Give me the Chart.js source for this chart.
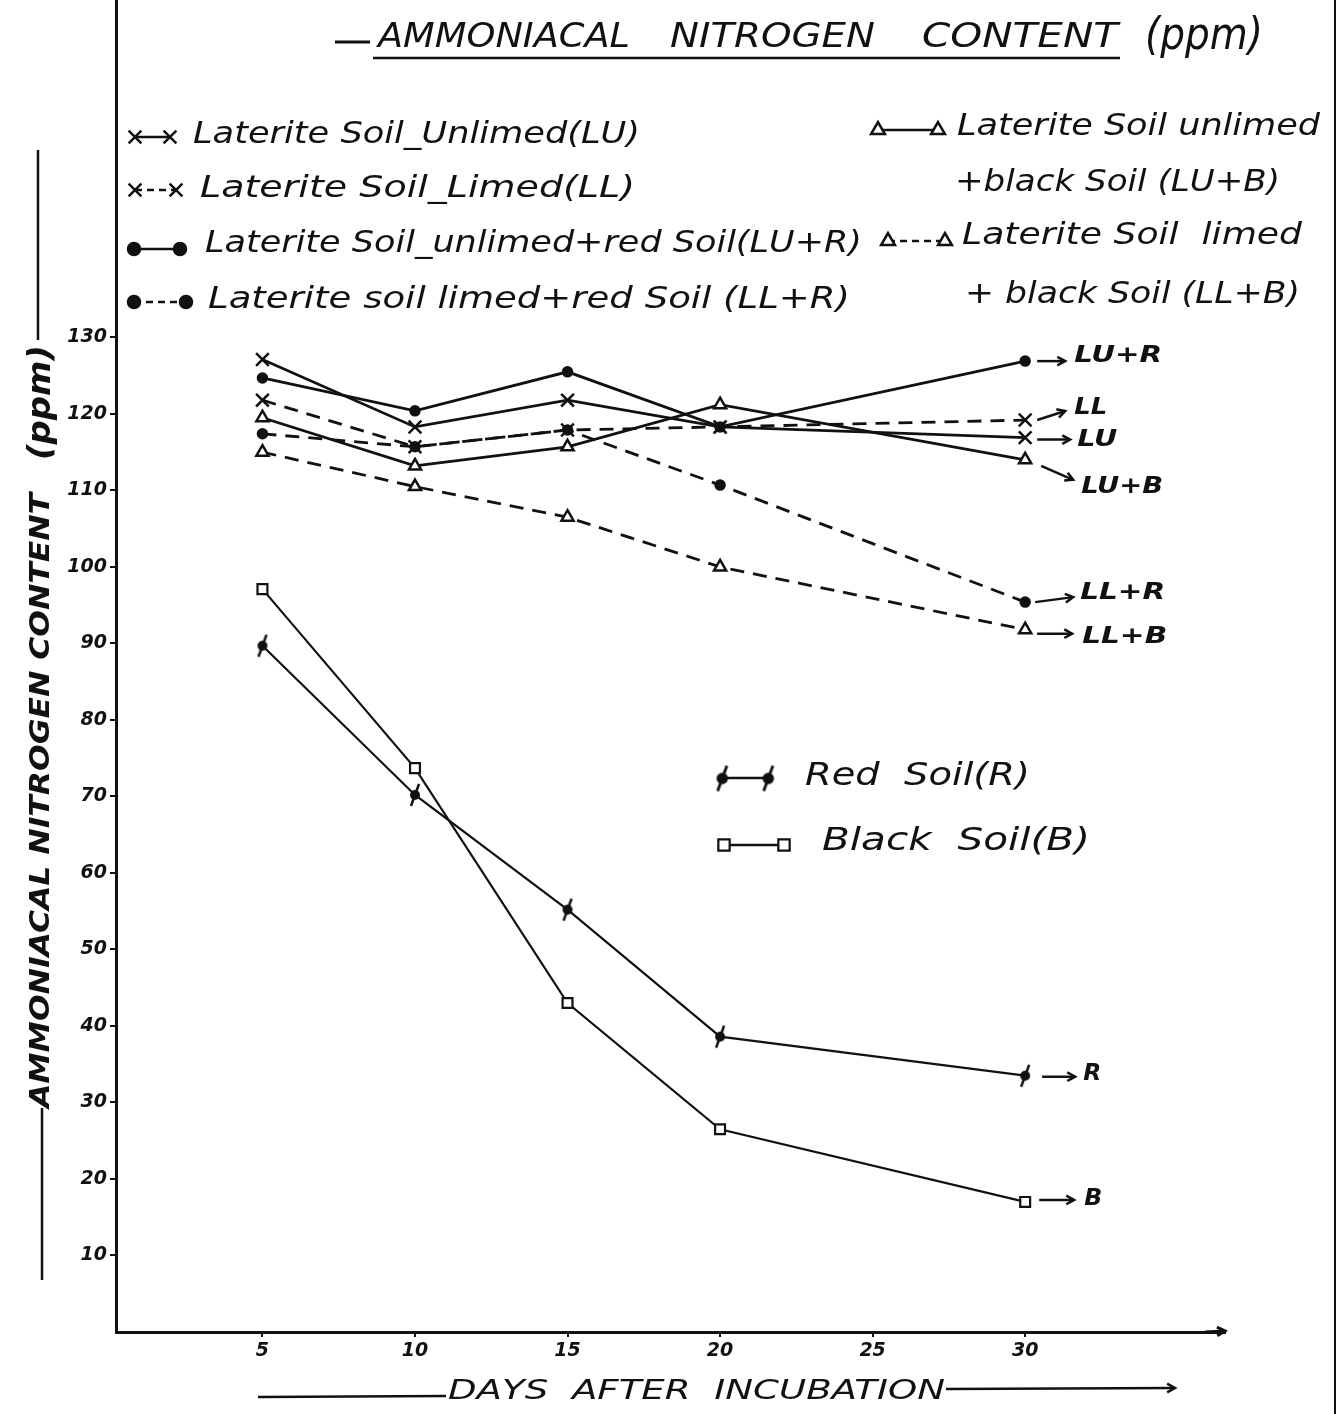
<!DOCTYPE html>
<html lang="en">
<head>
    <meta charset="UTF-8">
    <title>Ammoniacal Nitrogen Content (ppm)</title>
    <script src="https://cdn.jsdelivr.net/npm/chart.js"></script>
    <style>
        html, body { margin: 0; padding: 0; background: #fff; }
        .wrap { width: 1340px; height: 1414px; position: relative; }
    </style>
</head>
<body>
    <div class="wrap">
        <canvas id="nitroChart" width="1340" height="1414"></canvas>
    </div>

    <script>
        // days after incubation
        const days = [5, 10, 15, 20, 30];

        // ppm values
        const luValues    = [127.1, 118.3, 121.8, 118.3, 116.9];
        const llValues    = [121.8, 115.7, 117.9, 118.3, 119.2];
        const luRValues   = [124.7, 120.4, 125.5, 118.3, 126.9];
        const llRValues   = [117.4, 115.7, 117.9, 110.7, 95.4];
        const luBValues   = [119.5, 113.2, 115.7, 121.2, 114.0];
        const llBValues   = [115.0, 110.5, 106.5, 100.0, 91.8];
        const redValues   = [89.7, 70.2, 55.2, 38.6, 33.5];
        const blackValues = [97.1, 73.7, 43.0, 26.5, 17.0];

        const xTicks = [5, 10, 15, 20, 25, 30];
        const yTicks = [10, 20, 30, 40, 50, 60, 70, 80, 90, 100, 110, 120, 130];

        const INK = '#111';
        const FONT = '"DejaVu Sans"';

        // marker for red soil: blob with a slash through it
        function makeRedMarker(scale) {
            const c = document.createElement('canvas');
            c.width = 24 * scale; c.height = 26 * scale;
            const g = c.getContext('2d');
            g.scale(scale, scale);
            g.fillStyle = INK; g.strokeStyle = INK;
            g.beginPath(); g.arc(12, 13, 5, 0, Math.PI * 2); g.fill();
            g.lineWidth = 2.5;
            g.beginPath(); g.moveTo(16, 2); g.lineTo(8, 24); g.stroke();
            return c;
        }
        const redMarker = makeRedMarker(1);
        const redMarkerBig = makeRedMarker(1.15);

        const toPts = vals => days.map((d, i) => ({ x: d, y: vals[i] }));

        function series(label, vals, style, dashed, extra) {
            return Object.assign({
                label: label,
                data: toPts(vals),
                borderColor: INK,
                borderWidth: 2.8,
                borderDash: dashed ? [14, 9] : [],
                pointStyle: style,
                pointRadius: 7,
                pointBorderWidth: 2.5,
                pointBorderColor: INK,
                pointBackgroundColor: '#fff',
                tension: 0,
                fill: false
            }, extra || {});
        }

        const datasets = [
            series('Laterite Soil_Unlimed(LU)', luValues, 'crossRot', false, { pointRadius: 9 }),
            series('Laterite Soil_Limed(LL)', llValues, 'crossRot', true, { pointRadius: 9 }),
            series('Laterite Soil_unlimed+red Soil(LU+R)', luRValues, 'circle', false, { pointRadius: 4.5, pointBackgroundColor: INK }),
            series('Laterite soil limed+red Soil (LL+R)', llRValues, 'circle', true, { pointRadius: 4.5, pointBackgroundColor: INK }),
            series('Laterite Soil unlimed + black Soil (LU+B)', luBValues, 'triangle', false),
            series('Laterite Soil limed + black Soil (LL+B)', llBValues, 'triangle', true),
            series('Red Soil(R)', redValues, redMarker, false, { borderWidth: 2.2 }),
            series('Black Soil(B)', blackValues, 'rect', false, { borderWidth: 2.2, pointRadius: 7, pointBorderWidth: 2.2 })
        ];

        // short tags written at the end of each line
        const endTags = ['LU', 'LL', 'LU+R', 'LL+R', 'LU+B', 'LL+B', 'R', 'B'];

        // draw text squeezed/stretched to a given width
        function fitText(ctx, text, x, y, w, size, weight) {
            ctx.save();
            ctx.font = 'italic ' + (weight || 'normal') + ' ' + size + 'px ' + FONT;
            const m = ctx.measureText(text).width;
            ctx.translate(x, y);
            ctx.scale(w / m, 1);
            ctx.textBaseline = 'middle';
            ctx.textAlign = 'left';
            ctx.fillStyle = INK;
            ctx.fillText(text, 0, 0);
            ctx.restore();
        }

        function line(ctx, x1, y1, x2, y2, w, dash) {
            ctx.save();
            ctx.strokeStyle = INK;
            ctx.lineWidth = w;
            ctx.setLineDash(dash || []);
            ctx.beginPath(); ctx.moveTo(x1, y1); ctx.lineTo(x2, y2); ctx.stroke();
            ctx.restore();
        }

        function arrow(ctx, x1, y1, x2, y2, w) {
            line(ctx, x1, y1, x2, y2, w);
            const a = Math.atan2(y2 - y1, x2 - x1);
            ctx.save();
            ctx.strokeStyle = INK; ctx.lineWidth = w;
            ctx.beginPath();
            ctx.moveTo(x2 - 9 * Math.cos(a - 0.5), y2 - 9 * Math.sin(a - 0.5));
            ctx.lineTo(x2, y2);
            ctx.lineTo(x2 - 9 * Math.cos(a + 0.5), y2 - 9 * Math.sin(a + 0.5));
            ctx.stroke();
            ctx.restore();
        }

        function glyph(ctx, ds, x, y, r, style) {
            ctx.save();
            ctx.strokeStyle = INK;
            ctx.fillStyle = ds.pointBackgroundColor;
            ctx.lineWidth = ds.pointBorderWidth;
            Chart.helpers.drawPoint(ctx, {
                pointStyle: style || ds.pointStyle,
                radius: r || ds.pointRadius,
                rotation: 0,
                borderWidth: ds.pointBorderWidth
            }, x, y);
            ctx.restore();
        }

        function legendSample(ctx, ds, x1, x2, y, r, style) {
            line(ctx, x1, y, x2, y, 2.6, ds.borderDash.length ? [7, 5] : []);
            glyph(ctx, ds, x1, y, r, style);
            glyph(ctx, ds, x2, y, r, style);
        }

        const annotations = {
            id: 'annotations',
            afterDraw(chart) {
                const ctx = chart.ctx;
                const ds = chart.data.datasets;
                const area = chart.chartArea;

                // page edge on the right
                line(ctx, 1335, 0, 1335, 1414, 2);

                // x axis arrow head
                arrow(ctx, area.right - 20, area.bottom, area.right, area.bottom - 1, 3);

                // title
                line(ctx, 335, 42, 370, 42, 3);
                fitText(ctx, 'AMMONIACAL', 378, 38, 252, 34);
                fitText(ctx, 'NITROGEN', 670, 38, 205, 34);
                fitText(ctx, 'CONTENT', 922, 38, 196, 34);
                fitText(ctx, '(ppm)', 1145, 38, 118, 44);
                line(ctx, 373, 58, 1120, 58, 2.5);

                // legend, left column
                legendSample(ctx, ds[0], 135, 170, 137, 9);
                fitText(ctx, ds[0].label, 193, 135, 447, 31);
                legendSample(ctx, ds[1], 135, 176, 190, 9);
                fitText(ctx, ds[1].label, 200, 189, 435, 31);
                legendSample(ctx, ds[2], 134, 180, 249, 6);
                fitText(ctx, ds[2].label, 205, 244, 657, 31);
                legendSample(ctx, ds[3], 134, 186, 302, 6);
                fitText(ctx, ds[3].label, 208, 300, 642, 31);

                // legend, right column
                legendSample(ctx, ds[4], 878, 938, 130, 8);
                fitText(ctx, 'Laterite Soil unlimed', 957, 127, 363, 31);
                fitText(ctx, '+black Soil (LU+B)', 955, 183, 325, 31);
                legendSample(ctx, ds[5], 888, 945, 241, 8);
                fitText(ctx, 'Laterite Soil  limed', 962, 236, 340, 31);
                fitText(ctx, '+ black Soil (LL+B)', 965, 295, 335, 31);

                // legend for red and black soil
                legendSample(ctx, ds[6], 722, 768, 778, 0, redMarkerBig);
                fitText(ctx, 'Red  Soil(R)', 805, 777, 225, 32);
                legendSample(ctx, ds[7], 724, 784, 845, 8);
                fitText(ctx, 'Black  Soil(B)', 822, 842, 268, 32);

                // end tags with arrows
                const tagOffsets = [
                    { a: [12, 2, 45, 2], t: [52, 2, 40] },
                    { a: [12, 0, 40, -9], t: [49, -12, 33] },
                    { a: [12, 0, 40, 0], t: [49, -5, 88] },
                    { a: [10, 0, 48, -5], t: [55, -9, 85] },
                    { a: [16, 6, 48, 20], t: [56, 27, 82] },
                    { a: [12, 4, 47, 4], t: [57, 7, 85] },
                    { a: [17, 1, 50, 1], t: [58, -2, 18] },
                    { a: [14, -2, 49, -2], t: [59, -3, 18] }
                ];
                endTags.forEach((tag, i) => {
                    const pts = chart.getDatasetMeta(i).data;
                    const p = pts[pts.length - 1];
                    const o = tagOffsets[i];
                    arrow(ctx, p.x + o.a[0], p.y + o.a[1], p.x + o.a[2], p.y + o.a[3], 2.5);
                    fitText(ctx, tag, p.x + o.t[0], p.y + o.t[1], o.t[2], 23, 'bold');
                });

                // y axis title
                ctx.save();
                ctx.translate(42, 0);
                ctx.rotate(-Math.PI / 2);
                fitText(ctx, 'AMMONIACAL NITROGEN CONTENT', -1108, 0, 615, 27, 'bold');
                fitText(ctx, '(ppm)', -460, 0, 115, 32, 'bold');
                ctx.restore();
                line(ctx, 42, 1108, 42, 1280, 2.5);
                line(ctx, 38, 150, 38, 340, 2.5);

                // x axis title
                fitText(ctx, 'DAYS  AFTER  INCUBATION', 448, 1392, 497, 27);
                line(ctx, 258, 1397, 446, 1396, 2.5);
                arrow(ctx, 946, 1389, 1175, 1388, 2.5);
            }
        };

        new Chart(document.getElementById('nitroChart').getContext('2d'), {
            type: 'line',
            data: { datasets: datasets },
            options: {
                responsive: false,
                animation: false,
                events: [],
                layout: { autoPadding: false, padding: { top: 0, right: 115, left: 0, bottom: 0 } },
                plugins: {
                    legend: { display: false },
                    tooltip: { enabled: false }
                },
                scales: {
                    x: {
                        type: 'linear',
                        min: 0.2,
                        max: 36.55,
                        afterBuildTicks: s => { s.ticks = xTicks.map(v => ({ value: v })); },
                        afterFit: s => { s.height = 82; s.paddingLeft = 0; s.paddingRight = 0; },
                        border: { display: true, color: INK, width: 3 },
                        grid: { drawOnChartArea: false, color: INK, lineWidth: 2, tickLength: 5 },
                        ticks: {
                            color: INK,
                            padding: 3,
                            maxRotation: 0,
                            font: { family: FONT, style: 'italic', weight: 'bold', size: 19 }
                        }
                    },
                    y: {
                        min: 0,
                        max: 174.1,
                        afterBuildTicks: s => { s.ticks = yTicks.map(v => ({ value: v })); },
                        afterFit: s => { s.width = 116; s.paddingTop = 0; s.paddingBottom = 0; },
                        border: { display: true, color: INK, width: 3 },
                        grid: { drawOnChartArea: false, color: INK, lineWidth: 2, tickLength: 6 },
                        ticks: {
                            color: INK,
                            padding: 3,
                            font: { family: FONT, style: 'italic', weight: 'bold', size: 19 }
                        }
                    }
                }
            },
            plugins: [annotations]
        });
    </script>
</body>
</html>
